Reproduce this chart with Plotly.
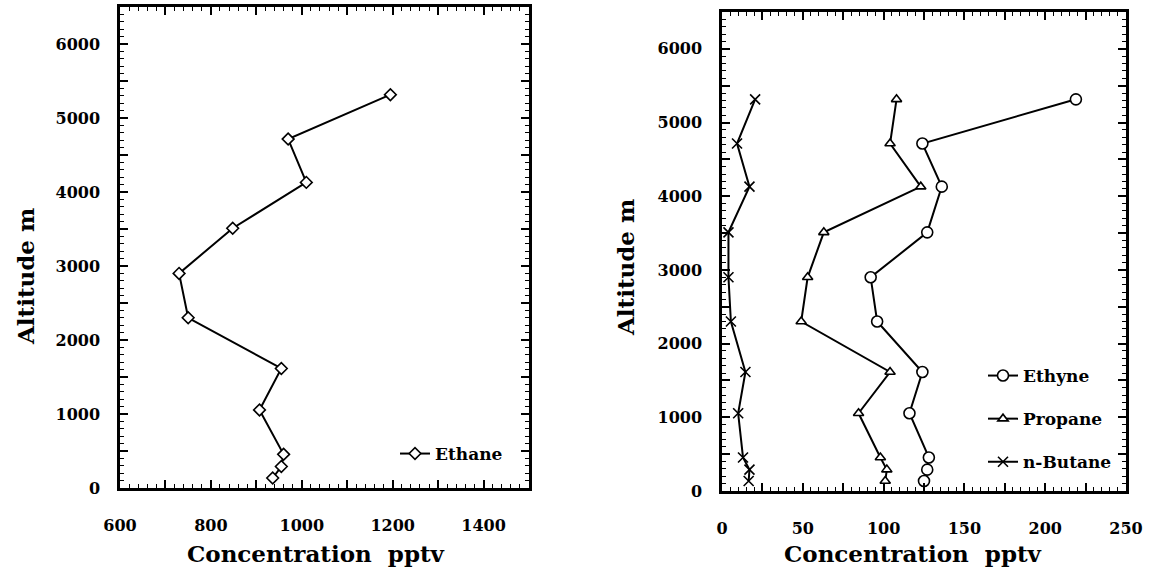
import plotly.graph_objects as go

# Sampling altitudes (m) of the vertical profile
altitude = [5315, 4715, 4130, 3510, 2900, 2300, 1615, 1055, 455, 290, 135]

# Mixing ratios (pptv) at each altitude
ethane = [1195, 970, 1010, 848, 730, 750, 955, 907, 960, 955, 936]
ethyne = [219, 124, 136, 127, 92, 96, 124, 116, 128, 127, 125]
propane = [108, 104, 123, 63, 53, 49, 104, 84.5, 98, 102, 101]
n_butane = [20.5, 9.3, 17, 4, 4, 5.5, 14.5, 10, 13, 17, 16.5]

# Tick positions and labels
ethane_ticks = list(range(600, 1501, 100))
ethane_labels = [str(v) if v % 200 == 0 and v < 1500 else "" for v in ethane_ticks]
nmhc_ticks = list(range(0, 251, 25))
nmhc_labels = [str(v) if v % 50 == 0 else "" for v in nmhc_ticks]
alt_ticks = list(range(0, 6501, 500))
alt_labels = [str(v) if v % 1000 == 0 and v < 6500 else "" for v in alt_ticks]

FONT = "DejaVu Serif"
W, H = 1151, 575

fig = go.Figure()

line_style = dict(color="black", width=2)


def marker(symbol, size):
    return dict(symbol=symbol, size=size, color="white",
                line=dict(color="black", width=1.6))


fig.add_trace(go.Scatter(
    x=ethane, y=altitude, mode="lines+markers", name="Ethane",
    line=line_style, marker=marker("diamond", 9),
    xaxis="x", yaxis="y", legend="legend2"))

fig.add_trace(go.Scatter(
    x=ethyne, y=altitude, mode="lines+markers", name="Ethyne",
    line=line_style, marker=marker("circle", 11), legendgroup="a",
    xaxis="x2", yaxis="y2", legend="legend"))
fig.add_trace(go.Scatter(
    x=propane, y=altitude, mode="lines+markers", name="Propane",
    line=line_style, marker=marker("triangle-up", 9), legendgroup="b",
    xaxis="x2", yaxis="y2", legend="legend"))
fig.add_trace(go.Scatter(
    x=n_butane, y=altitude, mode="lines+markers", name="n-Butane",
    line=line_style,
    marker=dict(symbol="x-thin", size=10, line=dict(color="black", width=1.6)),
    legendgroup="c", xaxis="x2", yaxis="y2", legend="legend"))

axis_common = dict(
    showline=True, linecolor="black", linewidth=2.5, mirror="ticks",
    ticks="inside", ticklen=8, tickwidth=1.5, tickcolor="black",
    showgrid=False, zeroline=False, automargin=False,
    tickfont=dict(family=FONT, size=16, color="black", weight="bold"),
    minor=dict(ticks="inside", ticklen=4, tickwidth=1.2, tickcolor="black",
               showgrid=False),
)


def px_x(p):
    return p / W


def px_y(p):
    return 1 - p / H


fig.update_layout(
    width=W, height=H,
    margin=dict(l=0, r=0, t=0, b=0, autoexpand=False),
    paper_bgcolor="white", plot_bgcolor="white",
    font=dict(family=FONT, color="black"),
    xaxis=dict(**axis_common, domain=[px_x(120), px_x(529)], range=[600, 1500],
               tickmode="array", tickvals=ethane_ticks, ticktext=ethane_labels,
               ticklabelstandoff=21, anchor="y"),
    yaxis=dict(**axis_common, domain=[px_y(488), px_y(7)], range=[0, 6500],
               tickmode="array", tickvals=alt_ticks, ticktext=alt_labels,
               ticklabelstandoff=14, anchor="x"),
    xaxis2=dict(**axis_common, domain=[px_x(722), px_x(1126)], range=[0, 250],
                tickmode="array", tickvals=nmhc_ticks, ticktext=nmhc_labels,
                ticklabelstandoff=21, anchor="y2"),
    yaxis2=dict(**axis_common, domain=[px_y(491), px_y(12)], range=[0, 6500],
                tickmode="array", tickvals=alt_ticks, ticktext=alt_labels,
                ticklabelstandoff=14, anchor="x2"),
    legend=dict(x=px_x(983), y=px_y(358), xanchor="left", yanchor="top",
                traceorder="grouped", tracegroupgap=18,
                bgcolor="rgba(0,0,0,0)", borderwidth=0,
                font=dict(family=FONT, size=17, color="black", weight="bold")),
    legend2=dict(x=px_x(395), y=px_y(454), xanchor="left", yanchor="middle",
                 bgcolor="rgba(0,0,0,0)", borderwidth=0,
                 font=dict(family=FONT, size=17, color="black", weight="bold")),
    showlegend=True,
)

fig.update_xaxes(minor_dtick=20, selector=dict(anchor="y"))
fig.update_xaxes(minor_dtick=5, selector=dict(anchor="y2"))
fig.update_yaxes(minor_dtick=100)

title_font = dict(family=FONT, size=23, color="black", weight="bold")
title_kw = dict(xref="paper", yref="paper", showarrow=False, font=title_font,
                xanchor="center", yanchor="middle")
fig.add_annotation(text="Concentration\u00a0\u00a0pptv", x=px_x(316), y=px_y(553),
                   **title_kw)
fig.add_annotation(text="Concentration\u00a0\u00a0pptv", x=px_x(913), y=px_y(553),
                   **title_kw)
fig.add_annotation(text="Altitude m", x=px_x(25), y=px_y(277), textangle=-90,
                   **title_kw)
fig.add_annotation(text="Altitude m", x=px_x(625), y=px_y(268), textangle=-90,
                   **title_kw)

fig.write_html("out.html")
